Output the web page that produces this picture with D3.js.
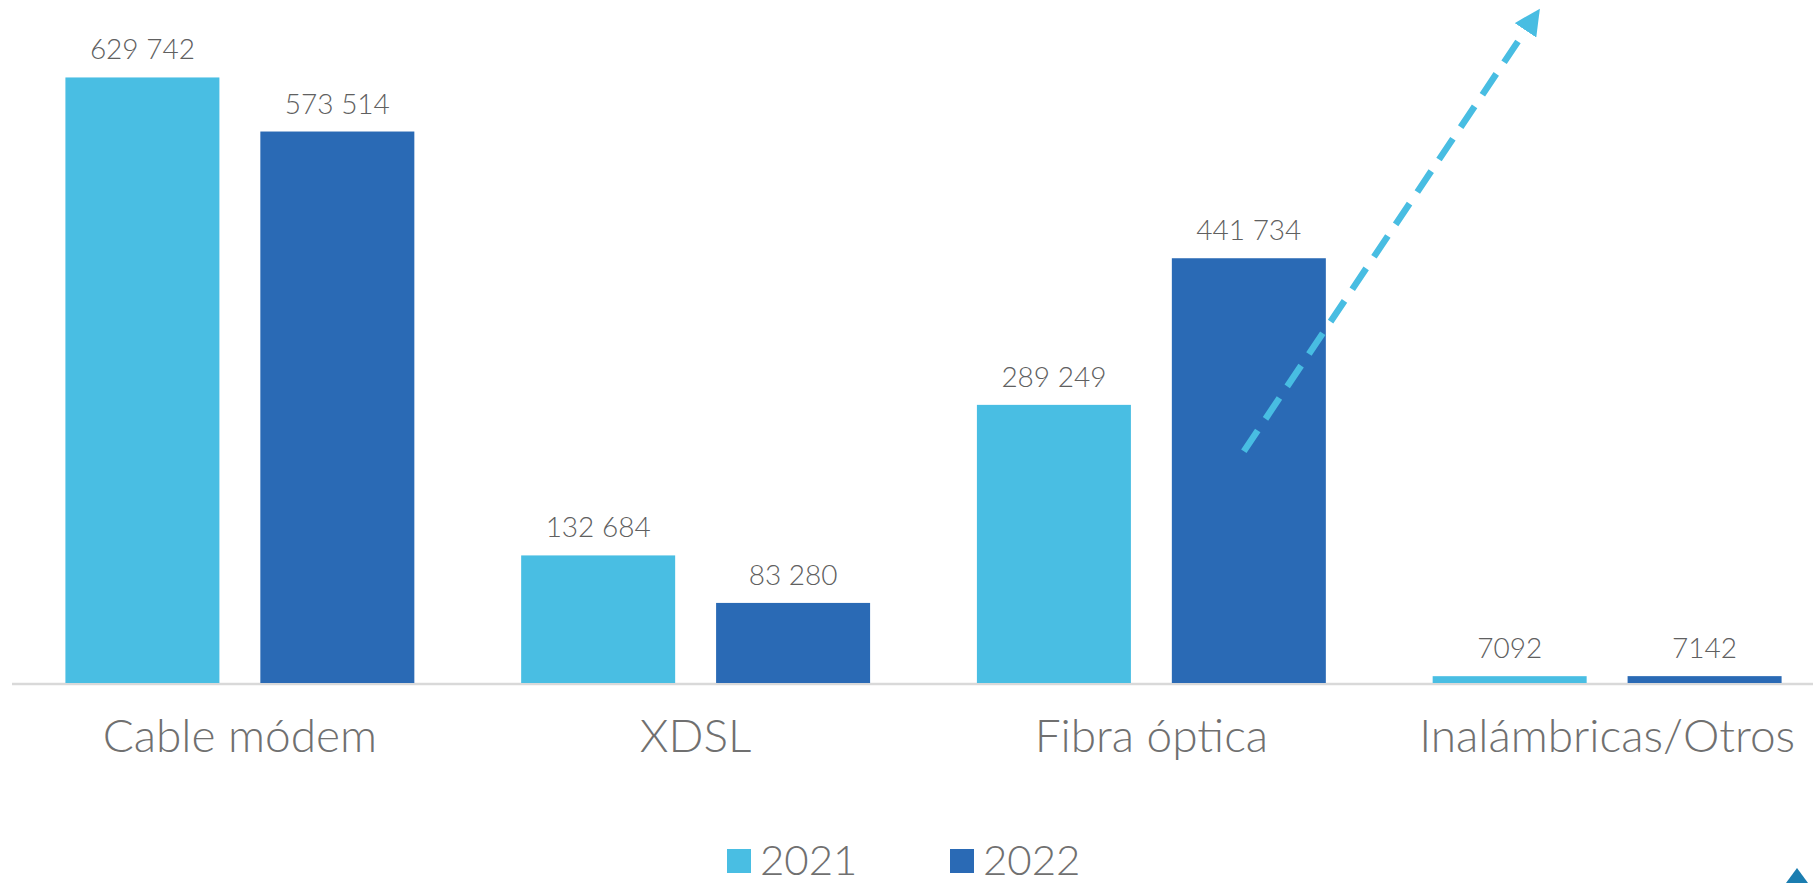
<!DOCTYPE html>
<html><head><meta charset="utf-8">
<script src="https://cdn.jsdelivr.net/npm/d3@7/dist/d3.min.js"></script>
<style>
html,body{margin:0;padding:0;background:#fff;overflow:hidden}
svg{display:block}
</style></head>
<body>
<svg id="chart" width="1813" height="883"></svg>
<script>
const categories = ["Cable módem", "XDSL", "Fibra óptica", "Inalámbricas/Otros"];
const years = ["2021", "2022"];
const values2021 = [629742, 132684, 289249, 7092];
const values2022 = [573514, 83280, 441734, 7142];
const colors = ["#49BEE3", "#2A6AB5"];

const W = 1813, H = 883;
const svg = d3.select("#chart");
const baseY = 683;

const x0 = d3.scaleBand().domain(categories).range([12, 1835]).padding(0);
const x1 = d3.scaleBand().domain(years).range([0, x0.bandwidth()]).paddingInner(0.21).paddingOuter(0.274);
const y = d3.scaleLinear().domain([0, 700000]).range([baseY, baseY - 673.1]);

const fmt = v => v >= 10000 ? d3.format(",")(v).replace(/,/g, " ") : String(v);

const rows = categories.map((c, i) => ({cat: c, vals: [values2021[i], values2022[i]]}));

// baseline
svg.append("line")
  .attr("x1", 12).attr("x2", W)
  .attr("y1", baseY + 1).attr("y2", baseY + 1)
  .attr("stroke", "#D9D9D9").attr("stroke-width", 2.5);

const g = svg.selectAll("g.cat").data(rows).join("g")
  .attr("class", "cat")
  .attr("transform", d => `translate(${x0(d.cat)},0)`);

g.selectAll("rect").data(d => d.vals.map((v, j) => ({year: years[j], v, j}))).join("rect")
  .attr("x", d => x1(d.year))
  .attr("y", d => y(d.v))
  .attr("width", x1.bandwidth())
  .attr("height", d => baseY - y(d.v))
  .attr("fill", d => colors[d.j]);

g.selectAll("text.val").data(d => d.vals.map((v, j) => ({year: years[j], v, j}))).join("text")
  .attr("class", "val")
  .attr("x", d => x1(d.year) + x1.bandwidth() / 2)
  .attr("y", d => y(d.v) - 18)
  .attr("text-anchor", "middle")
  .attr("font-family", "Lato, sans-serif")
  .attr("font-weight", 300)
  .attr("font-size", 28)
  .attr("fill", "#606060")
  .text(d => fmt(d.v));

// category axis labels
svg.selectAll("text.cat").data(categories).join("text")
  .attr("class", "cat")
  .attr("x", d => x0(d) + x0.bandwidth() / 2)
  .attr("y", 752)
  .attr("text-anchor", "middle")
  .attr("font-family", "Lato, sans-serif")
  .attr("font-weight", 300)
  .attr("font-size", 46)
  .attr("fill", "#707070")
  .text(d => d);

// dashed trend arrow (annotation)
const defs = svg.append("defs");
defs.append("marker")
  .attr("id", "ah").attr("viewBox", "0 0 10 10")
  .attr("refX", 5).attr("refY", 5)
  .attr("markerWidth", 4).attr("markerHeight", 4)
  .attr("orient", "auto")
  .append("path").attr("d", "M0,0 L10,5 L0,10 z").attr("fill", "#48BDE2");

const ax1 = x0("Fibra óptica") + x1("2022") + 72;
const ax2 = x0("Inalámbricas/Otros") + x1("2021") + 100;
svg.append("line")
  .attr("x1", ax1).attr("y1", y(241000))
  .attr("x2", ax2).attr("y2", y(690000))
  .attr("stroke", "#48BDE2").attr("stroke-width", 6.5)
  .attr("stroke-dasharray", "25,14")
  .attr("marker-end", "url(#ah)");

// legend
const leg = svg.append("g");
const legX = [727, 950];
years.forEach((yr, j) => {
  leg.append("rect").attr("x", legX[j]).attr("y", 849).attr("width", 24).attr("height", 24).attr("fill", colors[j]);
  leg.append("text").attr("x", legX[j] + 33).attr("y", 875)
    .attr("font-family", "Lato, sans-serif").attr("font-weight", 300)
    .attr("font-size", 42).attr("fill", "#707070").text(yr);
});

// corner mark
svg.append("path").attr("d", "M1786,883 L1797,868 L1808,883 Z").attr("fill", "#1B7DB0");
</script>
</body></html>
